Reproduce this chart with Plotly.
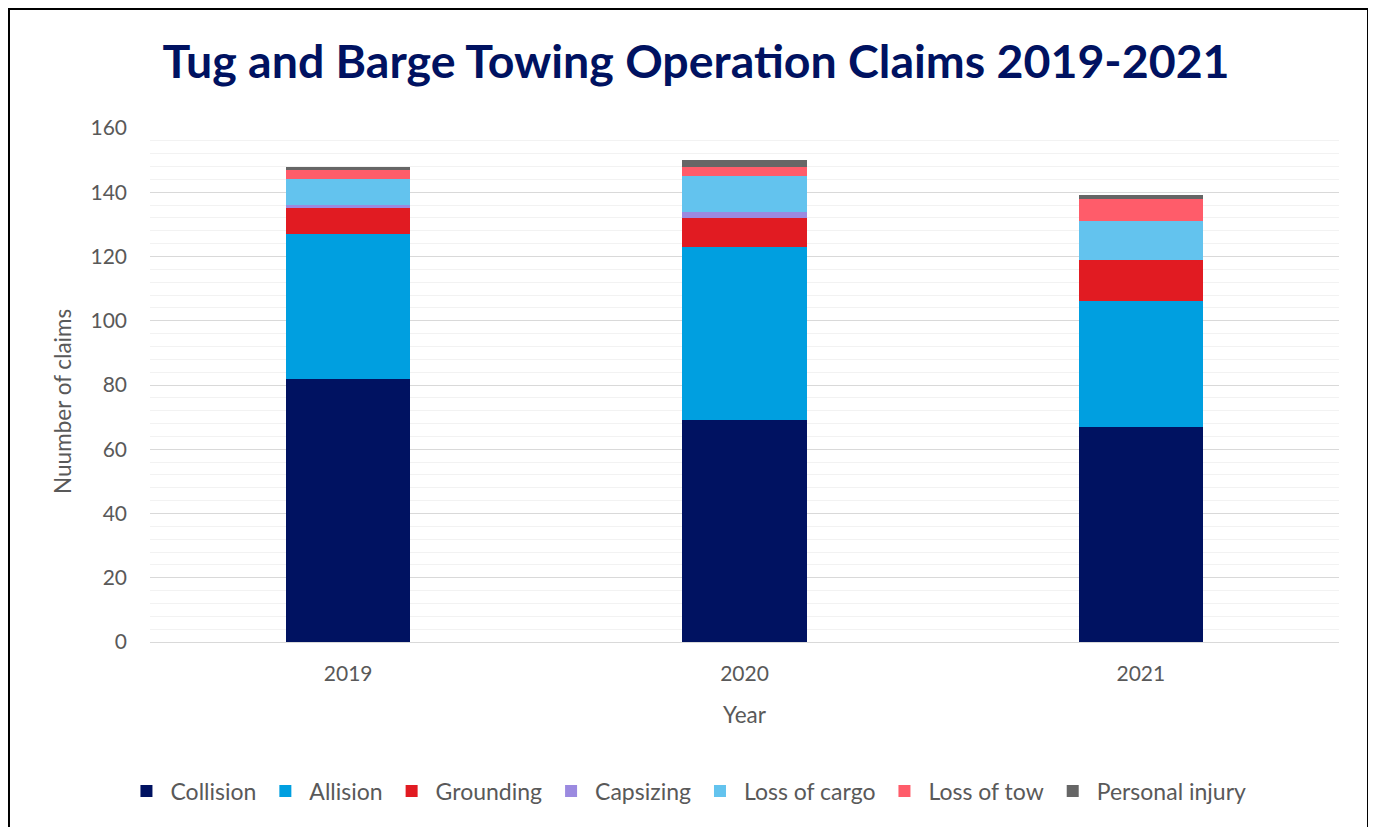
import plotly.graph_objects as go

years = ["2019", "2020", "2021"]
collision = [82, 69, 67]
allision = [45, 54, 39]
grounding = [8, 9, 13]
capsizing = [1, 2, 0]
loss_of_cargo = [8, 11, 12]
loss_of_tow = [3, 3, 7]
personal_injury = [1, 2, 1]

series = [
    ("Collision", collision, "#001261"),
    ("Allision", allision, "#009FE0"),
    ("Grounding", grounding, "#E11B22"),
    ("Capsizing", capsizing, "#9B8AE0"),
    ("Loss of cargo", loss_of_cargo, "#63C3EE"),
    ("Loss of tow", loss_of_tow, "#FF5C6A"),
    ("Personal injury", personal_injury, "#666666"),
]

fig = go.Figure()
for name, vals, color in series:
    fig.add_trace(go.Bar(name=name, x=years, y=vals, marker=dict(color=color, line=dict(width=0))))

font_family = "Lato, 'Open Sans', sans-serif"
fig.update_layout(
    barmode="stack",
    bargap=0.687,
    width=1376, height=827,
    margin=dict(l=142, r=45, t=120, b=193),
    paper_bgcolor="white", plot_bgcolor="white",
    font=dict(family=font_family, color="#595959", size=21),
    title=dict(text="<b>Tug and Barge Towing Operation Claims 2019-2021</b>",
               x=0.5, xanchor="center", y=0.9347, yanchor="middle",
               font=dict(size=46.5, color="#001261", family=font_family)),
    xaxis=dict(title=dict(text="Year", font=dict(size=22.5), standoff=23),
               showline=True, linecolor="#D9D9D9", tickfont=dict(size=21), ticks="",
               ticklabelstandoff=13),
    yaxis=dict(range=[0, 160], dtick=20, showgrid=True, gridcolor="#D9D9D9", gridwidth=1,
               zeroline=False, tickfont=dict(size=21), ticklabelstandoff=22,
               minor=dict(dtick=4, showgrid=True, gridcolor="#F2F2F2", gridwidth=1)),
    legend=dict(orientation="h", x=0.4516, xanchor="center", y=-0.29, yanchor="middle",
                font=dict(size=23, color="#595959"), traceorder="normal", itemwidth=38),
    annotations=[dict(text="Nuumber of claims", textangle=-90, xref="paper", yref="paper",
                      x=-0.0732, y=0.469, xanchor="center", yanchor="middle", showarrow=False,
                      font=dict(size=22.5, color="#595959", family=font_family))],
    shapes=[dict(type="rect", xref="paper", yref="paper",
                 x0=-0.1186, x1=1.0244, y0=-0.4, y1=1.2315,
                 line=dict(color="black", width=2), fillcolor="rgba(0,0,0,0)", layer="above")],
)

fig.write_html("out.html")
